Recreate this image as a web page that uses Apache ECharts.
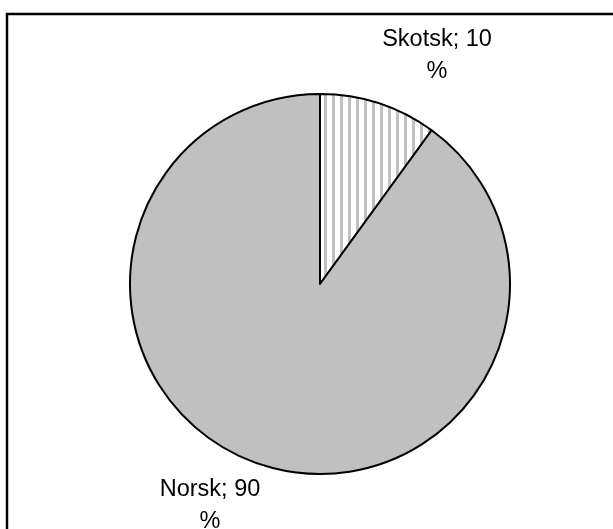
<!DOCTYPE html>
<html>
<head>
<meta charset="utf-8">
<script src="https://cdn.jsdelivr.net/npm/echarts@6/dist/echarts.min.js"></script>
<style>
  html, body { margin: 0; padding: 0; background: #fff; }
  #chart { width: 613px; height: 529px; }
</style>
</head>
<body>
<div id="chart"></div>
<script>
const names = ['Skotsk', 'Norsk']
const values = [10, 90]

// vertical stripe fill for the small slice
const stripe = document.createElement('canvas')
stripe.width = 8
stripe.height = 8
const ctx = stripe.getContext('2d')
ctx.fillStyle = '#ffffff'
ctx.fillRect(0, 0, 8, 8)
ctx.fillStyle = '#c0c0c0'
ctx.fillRect(4, 0, 3, 8)

const fills = [{ image: stripe, repeat: 'repeat' }, '#c0c0c0']
const labelPos = [[437, 56], [210, 506]]

const chart = echarts.init(document.getElementById('chart'))
chart.setOption({
  backgroundColor: '#fff',
  animation: false,
  graphic: [{
    type: 'rect',
    shape: { x: 7, y: 14, width: 640, height: 560 },
    style: { fill: 'none', stroke: '#000', lineWidth: 2.5 },
    silent: true
  }],
  series: [{
    type: 'pie',
    center: [320, 284],
    radius: [0, 190],
    startAngle: 90,
    clockwise: true,
    data: names.map((n, i) => ({
      name: n,
      value: values[i],
      itemStyle: { color: fills[i] }
    })),
    itemStyle: { borderColor: '#000', borderWidth: 2 },
    label: {
      show: true,
      position: 'outside',
      formatter: '{b}; {c}\n%',
      fontFamily: 'Liberation Sans, Arial, sans-serif',
      fontSize: 23.5,
      lineHeight: 32,
      color: '#000',
      align: 'center'
    },
    labelLine: { show: false },
    labelLayout: params => ({
      x: labelPos[params.dataIndex][0],
      y: labelPos[params.dataIndex][1],
      align: 'center',
      verticalAlign: 'middle'
    })
  }]
})
</script>
</body>
</html>
